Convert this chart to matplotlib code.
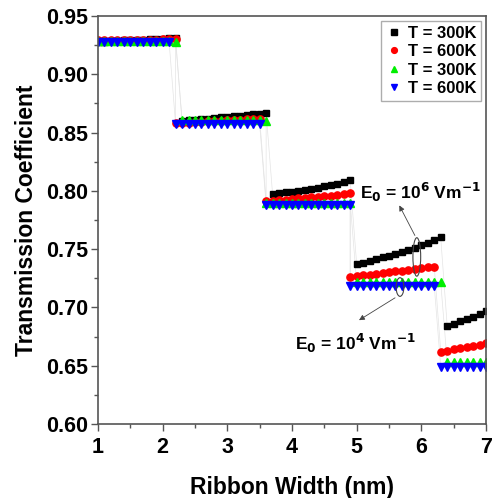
import numpy as np
import matplotlib.pyplot as plt
from matplotlib.patches import Ellipse

plt.rcParams['font.family'] = ['Liberation Sans', 'DejaVu Sans']
plt.rcParams['font.weight'] = 'bold'

# E0 = 10^6 V/m, T = 300K (black squares)
x_black = [1.0, 1.1, 1.2, 1.3, 1.4, 1.5, 1.6, 1.7, 1.8, 1.9, 2.0, 2.1, 2.2,
           2.3, 2.4, 2.5, 2.6, 2.7, 2.8, 2.9, 3.0, 3.1, 3.2, 3.3, 3.4, 3.5, 3.6,
           3.7, 3.8, 3.9, 4.0, 4.1, 4.2, 4.3, 4.4, 4.5, 4.6, 4.7, 4.8, 4.9,
           5.0, 5.1, 5.2, 5.3, 5.4, 5.5, 5.6, 5.7, 5.8, 5.9, 6.0, 6.1, 6.2, 6.3,
           6.4, 6.5, 6.6, 6.7, 6.8, 6.9, 7.0]
y_black = [0.928, 0.928, 0.9285, 0.9287, 0.929, 0.9292, 0.9295, 0.9297, 0.930, 0.9302, 0.9305, 0.9307, 0.931,
           0.860, 0.8605, 0.861, 0.8615, 0.862, 0.8625, 0.863, 0.8635, 0.864, 0.8645, 0.865, 0.8656, 0.8662, 0.867,
           0.797, 0.7978, 0.7986, 0.7994, 0.8002, 0.801, 0.8018, 0.8028, 0.8038, 0.8049, 0.806, 0.8075, 0.809,
           0.737, 0.7385, 0.740, 0.7415, 0.743, 0.7445, 0.746, 0.7478, 0.7496, 0.7514, 0.7533, 0.7553, 0.7575, 0.760,
           0.684, 0.686, 0.688, 0.690, 0.692, 0.6945, 0.697]

# E0 = 10^6 V/m, T = 600K (red circles)
x_red = [1.0, 1.1, 1.2, 1.3, 1.4, 1.5, 1.6, 1.7, 1.8, 1.9, 2.0, 2.1, 2.2,
         2.2, 2.3, 2.4, 2.5, 2.6, 2.7, 2.8, 2.9, 3.0, 3.1, 3.2, 3.3, 3.4, 3.5,
         3.6, 3.7, 3.8, 3.9, 4.0, 4.1, 4.2, 4.3, 4.4, 4.5, 4.6, 4.7, 4.8, 4.9,
         4.9, 5.0, 5.1, 5.2, 5.3, 5.4, 5.5, 5.6, 5.7, 5.8, 5.9, 6.0, 6.1, 6.2,
         6.3, 6.4, 6.5, 6.6, 6.7, 6.8, 6.9, 7.0]
y_red = [0.929, 0.929, 0.929, 0.9292, 0.9293, 0.9294, 0.9295, 0.9296, 0.9297, 0.9298, 0.9299, 0.930, 0.930,
         0.858, 0.8583, 0.8586, 0.8589, 0.8592, 0.8595, 0.8598, 0.8601, 0.8604, 0.8607, 0.861, 0.8613, 0.8616, 0.862,
         0.791, 0.7915, 0.792, 0.7925, 0.793, 0.7935, 0.794, 0.7945, 0.795, 0.7955, 0.796, 0.7966, 0.7972, 0.798,
         0.726, 0.7267, 0.7274, 0.7281, 0.7288, 0.7295, 0.7302, 0.7309, 0.7316, 0.7323, 0.733, 0.7337, 0.7344, 0.735,
         0.662, 0.663, 0.664, 0.665, 0.666, 0.667, 0.668, 0.6695]

# E0 = 10^4 V/m, T = 300K (green up-triangles)
x_green = [1.0, 1.1, 1.2, 1.3, 1.4, 1.5, 1.6, 1.7, 1.8, 1.9, 2.0, 2.1, 2.2,
           2.3, 2.4, 2.5, 2.6, 2.7, 2.8, 2.9, 3.0, 3.1, 3.2, 3.3, 3.4, 3.5, 3.6,
           3.6, 3.7, 3.8, 3.9, 4.0, 4.1, 4.2, 4.3, 4.4, 4.5, 4.6, 4.7, 4.8, 4.9,
           5.0, 5.1, 5.2, 5.3, 5.4, 5.5, 5.6, 5.7, 5.8, 5.9, 6.0, 6.1, 6.2, 6.3,
           6.4, 6.5, 6.6, 6.7, 6.8, 6.9, 7.0]
y_green = [0.9285, 0.9285, 0.9286, 0.9286, 0.9287, 0.9287, 0.9288, 0.9288, 0.9288, 0.9289, 0.9289, 0.9289, 0.928,
           0.8605, 0.8605, 0.8606, 0.8606, 0.8607, 0.8607, 0.8607, 0.8608, 0.8608, 0.8608, 0.8609, 0.8609, 0.8609, 0.8595,
           0.790, 0.790, 0.790, 0.790, 0.790, 0.790, 0.790, 0.790, 0.790, 0.790, 0.790, 0.790, 0.790, 0.790,
           0.7215, 0.7215, 0.7215, 0.7215, 0.7215, 0.7215, 0.7215, 0.7215, 0.7215, 0.7215, 0.7215, 0.7215, 0.7215, 0.7215,
           0.653, 0.653, 0.653, 0.653, 0.653, 0.653, 0.653]

# E0 = 10^4 V/m, T = 600K (blue down-triangles)
x_blue = [1.0, 1.1, 1.2, 1.3, 1.4, 1.5, 1.6, 1.7, 1.8, 1.9, 2.0, 2.1,
          2.2, 2.3, 2.4, 2.5, 2.6, 2.7, 2.8, 2.9, 3.0, 3.1, 3.2, 3.3, 3.4, 3.5,
          3.6, 3.7, 3.8, 3.9, 4.0, 4.1, 4.2, 4.3, 4.4, 4.5, 4.6, 4.7, 4.8, 4.9,
          4.9, 5.0, 5.1, 5.2, 5.3, 5.4, 5.5, 5.6, 5.7, 5.8, 5.9, 6.0, 6.1, 6.2,
          6.3, 6.4, 6.5, 6.6, 6.7, 6.8, 6.9, 7.0]
y_blue = [0.9275, 0.9275, 0.9275, 0.9275, 0.9275, 0.9275, 0.9275, 0.9275, 0.9275, 0.9275, 0.9275, 0.9275,
          0.857, 0.857, 0.857, 0.857, 0.857, 0.857, 0.857, 0.857, 0.857, 0.857, 0.857, 0.857, 0.857, 0.857,
          0.788, 0.788, 0.788, 0.788, 0.788, 0.788, 0.788, 0.788, 0.788, 0.788, 0.788, 0.788, 0.788, 0.788,
          0.7185, 0.7185, 0.7185, 0.7185, 0.7185, 0.7185, 0.7185, 0.7185, 0.7185, 0.7185, 0.7185, 0.7185, 0.7185, 0.7185,
          0.649, 0.649, 0.649, 0.649, 0.649, 0.649, 0.649, 0.649]

labels = ['T = 300K', 'T = 600K', 'T = 300K', 'T = 600K']

fig = plt.figure(figsize=(4.92, 4.98), dpi=100)
ax = fig.add_axes([98 / 492, 1 - 424 / 498, 388 / 492, 408 / 498])

series = [(x_black, y_black, 's', 'black', 4.8),
          (x_red, y_red, 'o', 'red', 5.2),
          (x_green, y_green, '^', '#00ee00', 5.4),
          (x_blue, y_blue, 'v', 'blue', 5.4)]
for (xs, ys, m, c, ms), lab in zip(series, labels):
    ax.plot(xs, ys, color='#e4e4e4', lw=0.5, zorder=1)
    ax.plot(xs, ys, ls='none', marker=m, color=c, ms=ms, label=lab, zorder=2)

ax.set_xlim(1, 7)
ax.set_ylim(0.60, 0.95)
ax.set_xticks([1, 2, 3, 4, 5, 6, 7])
ax.set_xticks([1.5, 2.5, 3.5, 4.5, 5.5, 6.5], minor=True)
ax.set_yticks([0.60, 0.65, 0.70, 0.75, 0.80, 0.85, 0.90, 0.95])
ax.set_yticks([0.625, 0.675, 0.725, 0.775, 0.825, 0.875, 0.925], minor=True)
ax.set_yticklabels(['0.60', '0.65', '0.70', '0.75', '0.80', '0.85', '0.90', '0.95'])
ax.tick_params(which='major', direction='out', length=5, width=1, labelsize=15.5,
               color='#555555')
ax.tick_params(axis='x', which='major', pad=4)
ax.tick_params(axis='y', which='major', pad=2)
ax.tick_params(which='minor', direction='out', length=3, width=1, color='#555555')
ax.tick_params(top=False, right=False)
for lbl in ax.get_xticklabels() + ax.get_yticklabels():
    lbl.set_fontweight('bold')
for s in ax.spines.values():
    s.set_color('#555555')
    s.set_linewidth(1.2)

ax.set_xlabel('Ribbon Width (nm)', fontsize=16.5, fontweight='bold', labelpad=13)
ax.set_ylabel('Transmission Coefficient', fontsize=16.5, fontweight='bold', labelpad=6)

leg = ax.legend(loc='upper right', fontsize=12, frameon=True, fancybox=False,
                borderpad=0.3, handletextpad=0.3, labelspacing=0.2,
                handlelength=1.0, borderaxespad=0.3, markerscale=0.8)
leg.get_frame().set_edgecolor('#999999')
leg.get_frame().set_linewidth(1)
for t in leg.get_texts():
    t.set_fontweight('bold')

# annotations
ax.add_patch(Ellipse((5.93, 0.7433), 0.12, 0.033, fill=False, ec='#444444', lw=0.8, zorder=3))
ax.add_patch(Ellipse((5.67, 0.7175), 0.12, 0.016, fill=False, ec='#444444', lw=0.8, zorder=3))
ax.annotate('', xy=(5.64, 0.7896), xytext=(5.92, 0.7596),
            arrowprops=dict(arrowstyle='-|>', color='#444444', lw=0.6, mutation_scale=8))
ax.annotate('', xy=(5.0, 0.6878), xytext=(5.63, 0.7095),
            arrowprops=dict(arrowstyle='-|>', color='#444444', lw=0.6, mutation_scale=8))
ax.text(5.05, 0.799, r'E$_\mathbf{0}$ = 10$^\mathbf{6}$ Vm$^\mathbf{-1}$', fontsize=12.5,
        fontweight='bold', va='center', ha='left')
ax.text(4.05, 0.669, r'E$_\mathbf{0}$ = 10$^\mathbf{4}$ Vm$^\mathbf{-1}$', fontsize=12.5,
        fontweight='bold', va='center', ha='left')

fig.savefig('out.png', dpi=100)
